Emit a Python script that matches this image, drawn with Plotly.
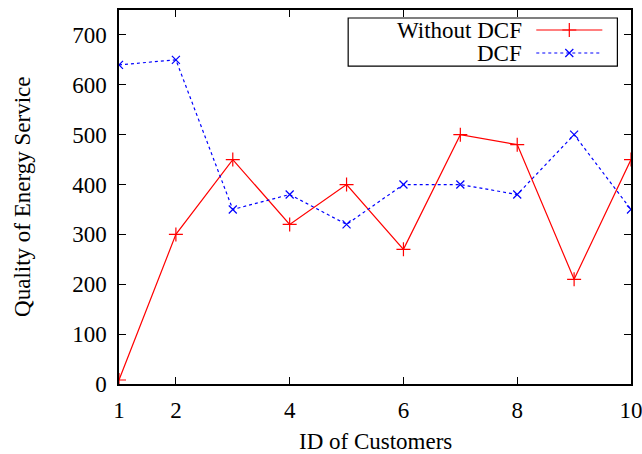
import plotly.graph_objects as go

# Customer IDs and quality-of-service values for both schemes
customer_ids = [1, 2, 3, 4, 5, 6, 7, 8, 9, 10]
without_dcf = [8, 300, 450, 320, 400, 270, 500, 480, 210, 450]
with_dcf = [640, 650, 350, 380, 320, 400, 400, 380, 500, 350]

x_tick_vals = [1, 2, 4, 6, 8, 10]
y_tick_vals = [0, 100, 200, 300, 400, 500, 600, 700]

series_names = ["Without DCF", "DCF"]
x_title = "ID of Customers"
y_title = "Quality of Energy Service"

RED = "#ff0000"
BLUE = "#0000ff"
FONT = "Liberation Serif"
FSIZE = 23

red_marker = dict(symbol="cross-thin", size=10, line=dict(color=RED, width=1.2))
blue_marker = dict(symbol="x-thin", size=8, line=dict(color=BLUE, width=1.2))
red_line = dict(color=RED, width=1.2)
blue_line = dict(color=BLUE, width=1.2, dash="3px,3px")

fig = go.Figure()

fig.add_trace(go.Scatter(
    x=customer_ids, y=without_dcf, mode="lines+markers", name=series_names[0],
    line=red_line, marker=red_marker, showlegend=False,
))
fig.add_trace(go.Scatter(
    x=customer_ids, y=with_dcf, mode="lines+markers", name=series_names[1],
    line=blue_line, marker=blue_marker, showlegend=False,
))

# Key drawn in the gnuplot style: text on the left, sample on the right
key_rows_y = [0.9465, 0.885]
sample_x = [0.815, 0.944]
for row_y, ln, mk in [(key_rows_y[0], red_line, red_marker), (key_rows_y[1], blue_line, blue_marker)]:
    fig.add_trace(go.Scatter(
        x=sample_x, y=[row_y] * 2, xaxis="x2", yaxis="y2", mode="lines",
        line=ln, showlegend=False, hoverinfo="skip"))
    fig.add_trace(go.Scatter(
        x=[sum(sample_x) / 2], y=[row_y], xaxis="x2", yaxis="y2", mode="markers",
        marker=mk, showlegend=False, hoverinfo="skip"))

text_font = dict(family=FONT, size=FSIZE, color="black")
annotations = []
for name, yy in zip(series_names, key_rows_y):
    annotations.append(dict(
        x=0.79, y=yy, xref="paper", yref="paper", text=name, showarrow=False,
        xanchor="right", yanchor="middle", font=text_font, borderpad=0))

# Axis titles
annotations.append(dict(
    x=0.5, y=-0.155, xref="paper", yref="paper", text=x_title, showarrow=False,
    xanchor="center", yanchor="middle", font=text_font, borderpad=0))
annotations.append(dict(
    x=-0.1896, y=0.5, xref="paper", yref="paper", text=y_title, showarrow=False,
    textangle=-90, xanchor="center", yanchor="middle", font=text_font, borderpad=0))

axis_common = dict(
    showgrid=False, zeroline=False, showline=True, linecolor="black", linewidth=1.5,
    mirror="ticks", ticks="inside", ticklen=7, tickwidth=1, tickcolor="black",
    tickfont=text_font, automargin=False, ticklabeloverflow="allow",
)

fig.update_layout(
    width=642, height=454,
    margin=dict(l=119, r=11, t=10, b=70),
    paper_bgcolor="white", plot_bgcolor="white",
    xaxis=dict(range=[1, 10], tickvals=x_tick_vals, ticklabelstandoff=5, **axis_common),
    yaxis=dict(range=[0, 750], tickvals=y_tick_vals, ticklabelstandoff=6, **axis_common),
    xaxis2=dict(overlaying="x", range=[0, 1], visible=False),
    yaxis2=dict(overlaying="y", range=[0, 1], visible=False),
    shapes=[dict(type="rect", xref="paper", yref="paper", x0=0.4476, x1=0.9734, y0=0.850, y1=0.9786,
                 line=dict(color="black", width=1.2), fillcolor="white", layer="below")],
    annotations=annotations,
    showlegend=False,
)

fig.write_html("out.html")
